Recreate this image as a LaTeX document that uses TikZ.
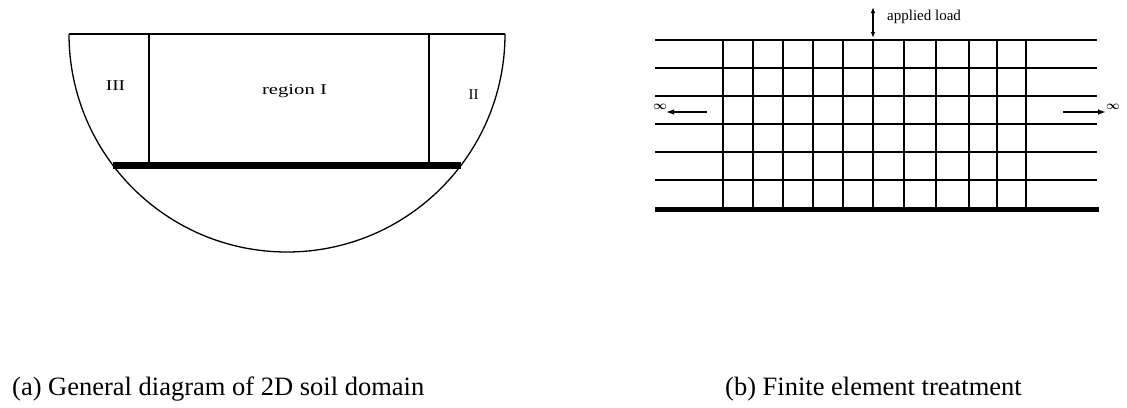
\documentclass[tikz,border=0pt]{standalone}
\usepackage{fontspec}
\setmainfont{Liberation Serif}
\usetikzlibrary{arrows.meta}
\tikzset{
  thin line/.style={line width=1.3pt},
  thick bar/.style={line width=7pt},
  grid bar/.style={line width=5pt},
  lbl/.style={inner sep=0pt, font=\fontsize{15}{17}\selectfont},
  capt/.style={inner sep=0pt, anchor=base west, font=\fontsize{26.5}{30}\selectfont},
  inf/.style={inner sep=0pt, font=\fontsize{13}{13}\selectfont\boldmath},
  arr/.style={line width=1.3pt, -{Latex[length=8pt,width=5.5pt]}},
  darr/.style={line width=1.3pt, {Latex[length=6pt,width=4.5pt]}-{Latex[length=6pt,width=4.5pt]}},
}
\begin{document}
\begin{tikzpicture}[x=1pt,y=-1pt]
\useasboundingbox (0,0) rectangle (1127,407);
% ---------- (a) ----------
\draw[thin line] (69,34) -- (505,34);
\draw[thin line] (69,34) arc[start angle=180,end angle=0,radius=218];
\draw[thin line] (149,34) -- (149,165);
\draw[thin line] (429,34) -- (429,165);
\draw[thick bar] (113,165.5) -- (461,165.5);
\node[lbl, anchor=base, xscale=1.3] (r3) at (115.5,90.5) {III};
\node[lbl, anchor=base, xscale=1.38] (r1) at (294.5,94) {region I};
\node[lbl, anchor=base] (r2) at (473.5,99) {II};
% ---------- (b) ----------
\foreach \y in {40,68,96,124,152,180} \draw[thin line] (655,\y) -- (1097,\y);
\foreach \x in {723,753,783,813,843,873,904,936,969,997,1026} \draw[thin line] (\x,40) -- (\x,207);
\draw[grid bar] (655,209) -- (1099,209);
\coordinate (la) at (873,7);
\coordinate (lb) at (873,38);
\draw[darr] (la) -- (lb);
\node[lbl, anchor=base west] (load) at (887,20) {applied load};
\node[inf] (infl) at (660,107) {$\infty$};
\node[inf] (infr) at (1113,107) {$\infty$};
\coordinate (al) at (707,112);
\coordinate (alt) at (666,112);
\coordinate (ar) at (1063,112);
\coordinate (art) at (1106,112);
\draw[arr] (al) -- (alt);
\draw[arr] (ar) -- (art);
% ---------- captions ----------
\node[capt] (capa) at (12,395) {(a) General diagram of 2D soil domain};
\node[capt] (capb) at (725,395) {(b) Finite element treatment};
\end{tikzpicture}
\end{document}
